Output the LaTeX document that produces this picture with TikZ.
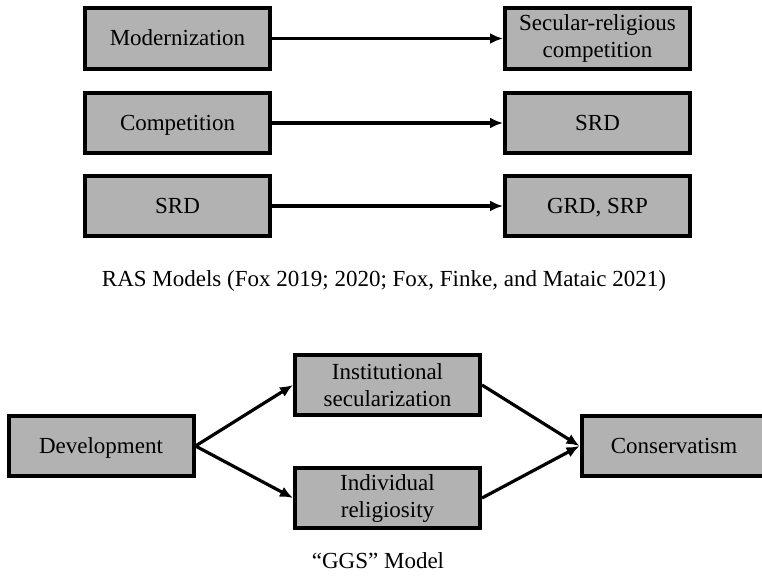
\documentclass[tikz,border=0pt]{standalone}
\usepackage{fontspec}
\setmainfont{Liberation Serif}
\usetikzlibrary{arrows.meta}

\begin{document}
\begin{tikzpicture}[x=1pt,y=-1pt,
  box/.style={draw, line width=4pt, fill=black!30, minimum width=185pt,
    minimum height=60.5pt, align=center, inner sep=2pt,
    text height=20pt, text depth=5pt,
    font=\fontsize{23}{27}\selectfont},
  tworow/.style={text height=, text depth=},
  link/.style={draw, line width=3.2pt, -{Latex[length=13pt,width=11pt]}},
  caption/.style={font=\fontsize{23}{27}\selectfont}]
\useasboundingbox (0,0) rectangle (762,583);
\newcommand\rasrow[6]{
\node[box] (#2) at (177.5,#1) {#3};
\node[box,#6] (#4) at (597.5,#1) {#5};
\path[link] (#2) -- (#4);
}

\rasrow{38.5}{modern}{Modernization}{secrel}{Secular-religious\\competition}{tworow}
\rasrow{123}{compet}{Competition}{srdout}{SRD}{}
\rasrow{206}{srdin}{SRD}{grdsrp}{GRD, SRP}{}
\node[caption] (rascap) at (384,281) {RAS Models (Fox 2019; 2020; Fox, Finke, and Mataic 2021)};

\node[box] (devel) at (101,446) {Development};
\node[box,tworow] (instsec) at (387.5,385) {Institutional\\secularization};
\node[box,tworow] (indrel) at (387.5,498) {Individual\\religiosity};
\node[box] (conserv) at (674,446) {Conservatism};
\path[link] (devel.east) -- (instsec.west);
\path[link] (devel.east) -- (indrel.west);
\path[link] (instsec.east) -- (conserv.west);
\path[link] (indrel.east) -- (conserv.west);
\node[caption] (ggscap) at (378,561) {``GGS'' Model};
\end{tikzpicture}
\end{document}
